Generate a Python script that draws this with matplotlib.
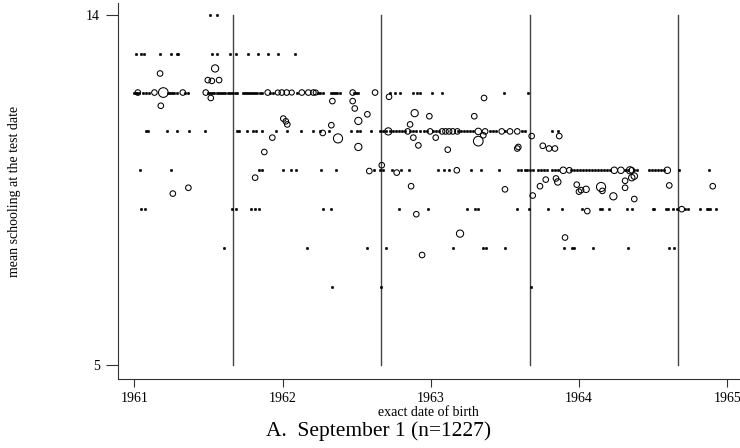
import numpy as np
import matplotlib
matplotlib.use("Agg")
import matplotlib.pyplot as plt

# Birth dates are given as years elapsed since 1 Jan 1961
BASE = 1961.0

# single births (weight 1) sitting on whole years of schooling
row14_dob = [0.511, 0.558]
row13_dob = [0.010, 0.046, 0.068, 0.174, 0.248, 0.287, 0.297, 0.523, 0.556, 0.646,
             0.684, 0.765, 0.837, 0.904, 0.972, 1.084]
row12_dob = [0.000, 0.010, 0.020, 0.035, 0.060, 0.080, 0.100, 0.228, 0.240, 0.252,
             0.265, 0.285, 0.340, 0.362, 0.495, 0.510, 0.525, 0.540, 0.555, 0.570,
             0.585, 0.600, 0.615, 0.630, 0.645, 0.660, 0.680, 0.695, 0.735, 0.748,
             0.760, 0.772, 0.785, 0.800, 0.815, 0.830, 0.845, 0.860, 0.918, 0.935,
             1.096, 1.240, 1.255, 1.270, 1.325, 1.340, 1.355, 1.370, 1.385, 1.480,
             1.495, 1.510, 1.725, 1.759, 1.792, 1.882, 1.905, 1.927, 2.006, 2.073,
             2.496, 2.653]
row11_dob = [0.078, 0.095, 0.219, 0.287, 0.370, 0.478, 0.691, 0.707, 0.759, 0.803,
             0.819, 0.860, 0.956, 1.032, 1.125, 1.204, 1.253, 1.316, 1.460, 1.504,
             1.523, 1.597, 1.657, 1.678, 1.698, 1.725, 1.745, 1.765, 1.785, 1.806,
             1.826, 1.860, 1.880, 1.900, 1.927, 1.954, 1.974, 2.015, 2.035, 2.055,
             2.183, 2.204, 2.224, 2.244, 2.264, 2.285, 2.399, 2.419, 2.440, 2.500,
             2.615, 2.635, 2.815, 2.860]
row10_dob = [0.041, 0.246, 0.842, 0.860, 1.001, 1.057, 1.091, 1.260, 1.361, 1.619,
             1.657, 1.680, 1.736, 1.799, 1.855, 2.051, 2.089, 2.123, 2.269, 2.337,
             2.462, 2.588, 2.608, 2.635, 2.649, 2.669, 2.689, 2.723, 2.743, 2.763,
             2.784, 2.817, 2.837, 2.858, 2.945, 2.966, 2.986, 3.006, 3.027, 3.047,
             3.067, 3.087, 3.107, 3.128, 3.148, 3.168, 3.188, 3.208, 3.310, 3.330,
             3.370, 3.390, 3.471, 3.491, 3.511, 3.532, 3.552, 3.572, 3.676, 3.878]
row9_dob = [0.046, 0.073, 0.662, 0.684, 0.788, 0.815, 0.842, 1.275, 1.325, 1.788,
            1.983, 2.242, 2.298, 2.320, 2.579, 2.662, 2.792, 2.883, 3.018, 3.141,
            3.152, 3.204, 3.321, 3.355, 3.500, 3.505, 3.586, 3.601, 3.631, 3.658,
            3.714, 3.736, 3.815, 3.860, 3.871, 3.882, 3.921]
row8_dob = [0.608, 1.167, 1.568, 1.698, 2.152, 2.354, 2.372, 2.500, 2.900, 2.950,
            2.968, 3.092, 3.328, 3.608, 3.642]
row7_dob = [1.332, 1.664, 2.676]

# dates with several births: mean schooling and number of births
circ_dob = [0.024, 0.136, 0.196, 0.327, 0.482, 0.900, 0.968, 0.995, 1.028, 1.062,
            1.130, 1.174, 1.208, 1.224, 1.473, 1.624,
            0.174, 0.545, 0.496, 0.523, 0.572, 0.179, 0.516, 1.005, 1.022, 1.032,
            0.931, 0.877, 0.815, 0.260, 0.365,
            1.336, 1.473, 1.487, 1.572, 1.511, 1.718, 1.891, 1.990, 2.293, 2.359,
            1.860, 1.882, 1.916, 2.033, 2.114, 2.320, 2.354, 2.583, 2.590, 1.271,
            1.329, 1.374, 1.511, 1.867, 1.669, 1.770, 1.585, 1.902, 1.941, 2.197,
            2.500,
            1.995, 2.076, 2.099, 2.123, 2.148, 2.179, 2.320, 2.366, 2.478, 2.534,
            2.583, 1.713, 1.844,
            2.680, 2.866, 2.755, 2.797, 2.837, 2.687, 2.736, 2.775, 2.844, 2.856,
            2.984, 2.999, 3.013, 3.047, 3.148, 3.157, 3.231, 3.310, 3.310, 3.355,
            3.372, 3.372, 3.608, 3.901, 2.905, 3.055, 3.692,
            2.893, 2.934, 3.237, 3.282, 3.343, 3.355, 3.595, 2.175]
circ_school = [12.0, 12.0, 12.0, 12.0, 12.0, 12.0, 12.0, 12.0, 12.0, 12.0,
               12.0, 12.0, 12.0, 12.0, 12.0, 12.0,
               12.49, 12.62, 12.32, 12.30, 12.32, 11.66, 11.86, 11.33, 11.26, 11.18,
               10.84, 10.47, 9.81, 9.40, 9.55,
               11.78, 11.78, 11.59, 11.44, 11.27, 11.89, 11.47, 11.39, 11.39, 11.86,
               11.18, 10.84, 10.64, 10.84, 10.53, 10.75, 10.90, 10.56, 10.60, 10.96,
               11.16, 10.82, 10.60, 9.59, 10.13, 9.94, 9.98, 8.87, 7.82, 8.37,
               9.51,
               11.0, 11.0, 11.0, 11.0, 11.0, 11.0, 11.0, 11.0, 11.0, 11.0,
               11.0, 11.0, 11.0,
               10.88, 10.88, 10.63, 10.56, 10.56, 9.35, 9.59, 9.76, 9.79, 9.70,
               9.63, 9.45, 9.49, 9.51, 9.57, 9.47, 9.33, 9.73, 9.55, 9.81,
               9.85, 9.26, 9.61, 9.59, 8.27, 8.95, 9.00,
               10.0, 10.0, 10.0, 10.0, 10.0, 10.0, 10.0, 10.0]
circ_count = [6, 6, 18, 6, 6, 6, 5, 6, 6, 5,
              6, 6, 6, 5, 6, 6,
              6, 10, 6, 6, 6, 6, 6, 6, 6, 6,
              6, 6, 6, 6, 6,
              6, 6, 6, 6, 10, 6, 10, 6, 6, 6,
              6, 6, 6, 6, 6, 18, 6, 6, 6, 6,
              6, 16, 10, 6, 6, 6, 6, 6, 6, 10,
              6,
              6, 6, 6, 6, 6, 6, 8, 6, 6, 6,
              6, 10, 6,
              6, 6, 6, 6, 6, 6, 6, 6, 6, 8,
              6, 6, 6, 8, 16, 6, 10, 6, 6, 8,
              8, 6, 6, 6, 6, 6, 6,
              8, 6, 8, 8, 10, 6, 8, 6]

cutoff_years = [1961, 1962, 1963, 1964]
SEPT1 = 243.0 / 365.0
year_ticks = [1961, 1962, 1963, 1964, 1965]
school_ticks = [5, 14]

plt.rcParams['font.family'] = ['Liberation Serif', 'DejaVu Serif']

dot_rows = [(14, row14_dob), (13, row13_dob), (12, row12_dob), (11, row11_dob),
            (10, row10_dob), (9, row9_dob), (8, row8_dob), (7, row7_dob)]
dot_x, dot_y = [], []
for lvl, dates in dot_rows:
    dot_x += list(BASE + np.array(dates))
    dot_y += [lvl] * len(dates)
circ_x = BASE + np.array(circ_dob)

fig = plt.figure(figsize=(7.40, 4.48), dpi=100)
ax = fig.add_axes([0.159, 0.154, 0.841, 0.839])

# single births look like tiny filled dots, the rest are hollow circles sized by weight
ax.scatter(dot_x, dot_y, s=3.0, facecolors='black', edgecolors='black',
           linewidths=0.4, zorder=3)
ax.scatter(circ_x, circ_school, s=2.7 * np.array(circ_count), facecolors='none',
           edgecolors='black', linewidths=0.75, zorder=3)

for yr in cutoff_years:
    ax.plot([yr + SEPT1, yr + SEPT1], [5, 14], color='#444444', lw=1.0, zorder=2)

ax.set_xlim(1960.888, 1965.085)
ax.set_ylim(4.63, 14.30)
ax.set_xticks(year_ticks)
ax.set_yticks(school_ticks)
ax.tick_params(axis='y', direction='out', length=9, width=0.8, colors='#333333',
               labelsize=10, labelcolor='black', pad=4)
ax.tick_params(axis='x', direction='out', length=6, width=0.8, colors='#333333',
               labelsize=10, labelcolor='black', pad=3)
for side in ('top', 'right'):
    ax.spines[side].set_visible(False)
for side in ('left', 'bottom'):
    ax.spines[side].set_color('#333333')
    ax.spines[side].set_linewidth(0.8)

ax.set_xlabel('exact date of birth', fontsize=10, va='center')
ax.xaxis.set_label_coords(0.5, -0.088)
ax.set_ylabel('mean schooling at the test date', fontsize=10, va='center')
ax.yaxis.set_label_coords(-0.165, 0.5)

fig.text(0.511, 0.038, 'A.  September 1 (n=1227)', ha='center', va='center', fontsize=15.5)

fig.savefig('out.png', dpi=100)
